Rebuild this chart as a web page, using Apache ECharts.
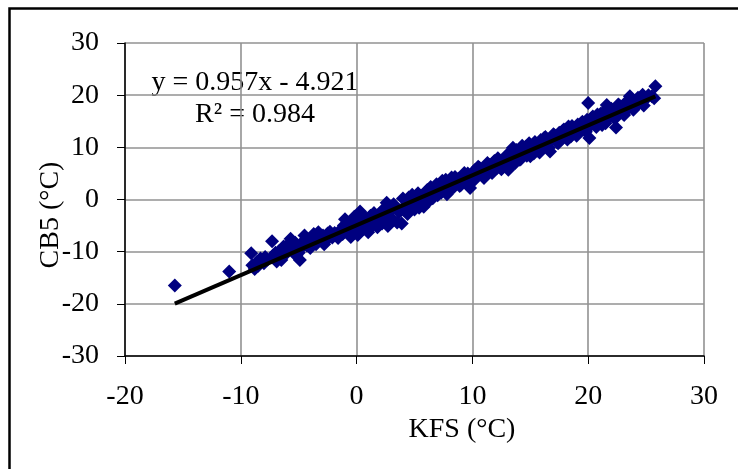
<!DOCTYPE html>
<html>
<head>
<meta charset="utf-8">
<script src="https://cdn.jsdelivr.net/npm/echarts@6/dist/echarts.min.js"></script>
<style>
  html, body { margin: 0; padding: 0; background: #fff; }
  #chart { width: 738px; height: 469px; }
</style>
</head>
<body>
<div id="chart"></div>
<script>
// Paired daily temperatures: KFS station (x) vs CB5 station (y), °C
var kfs = [
  -15.7, -11.0,
  -9.1, -9.0, -8.8, -8.6, -8.3, -8.0, -7.7, -7.3, -7.2, -7.0, -6.7, -6.5, -6.3, -6.1,
  -5.9, -5.7, -5.5, -5.3, -5.0, -4.9, -4.7, -4.5, -4.3, -4.1, -3.9, -3.7, -3.5, -3.3,
  -3.1, -2.9, -2.7, -2.5, -2.3, -2.1, -1.9, -1.7, -1.5, -1.2, -1.0, -0.9, -0.7, -0.5,
  -0.3, -0.1, 0.1, 0.3, 0.5, 0.6, 0.8, 1.0, 1.2, 1.4, 1.6, 1.8, 2.0, 2.2, 2.4, 2.6,
  2.7, 2.9, 3.1, 3.3, 3.5, 3.7, 3.9, 4.0, 4.2, 4.4, 4.6, 4.8, 5.0, 5.2, 5.4, 5.6,
  5.8, 6.0, 6.2, 6.4, 6.6, 6.8, 7.0, 7.2, 7.4, 7.6, 7.8, 8.0, 8.2, 8.4, 8.6, 8.8,
  9.0, 9.2, 9.4, 9.6, 9.8, 10.0, 10.2, 10.4, 10.6, 10.8, 11.0, 11.2, 11.5, 11.7, 11.9,
  12.1, 12.3, 12.5, 12.7, 12.9, 13.1, 13.3, 13.5, 13.7, 13.9, 14.1, 14.3, 14.5, 14.7,
  14.9, 15.1, 15.3, 15.5, 15.7, 15.9, 16.1, 16.3, 16.5, 16.7, 16.9, 17.1, 17.3, 17.5,
  17.7, 17.9, 18.1, 18.3, 18.5, 18.7, 18.9, 19.1, 19.3, 19.5, 19.7, 19.9, 20.0, 20.1,
  20.2, 20.4, 20.6, 20.8, 21.0, 21.2, 21.4, 21.6, 21.8, 22.0, 22.2, 22.4, 22.6, 22.8,
  23.0, 23.2, 23.4, 23.6, 23.8, 24.0, 24.2, 24.5, 24.7, 25.0, 25.5, 25.8, 25.7,
  -8.5, -7.9, -6.9, -6.0, -5.2, -4.6, -4.0, -3.4, -2.8, -2.2, -1.6, -1.1, -0.6, -0.2,
  0.2, 0.7, 1.1, 1.5, 1.9, 2.3, 2.8, 3.2, 3.6, 4.1, 4.5, 4.9, 5.3, 5.7, 6.1, 6.5,
  6.9, 7.3, 7.7, 8.1, 8.5, 8.9, 9.3, 9.7, 10.1, 10.5, 10.9, 11.3, 11.8, 12.2, 12.6,
  13.0, 13.4, 13.8, 14.2, 14.6, 15.0, 15.4, 15.8, 16.2, 16.6, 17.0, 17.4, 17.8, 18.2,
  18.6, 19.0, 19.4, 19.8, 20.3, 20.7, 21.1, 21.5, 21.9, 22.3, 22.7, 23.1, 23.5, 23.9,
  24.3, 24.8, 25.2
];
var cb5 = [
  -16.5, -13.8,
  -10.3, -12.6, -13.3, -12.0, -11.3, -12.2, -11.5, -8.0, -10.8, -10.2, -9.9, -11.6, -9.0, -10.4,
  -8.6, -7.5, -9.4, -8.3, -10.2, -11.6, -9.1, -6.9, -8.8, -7.6, -8.2, -6.6, -8.6, -6.3,
  -7.8, -6.9, -8.0, -6.5, -6.2, -7.3, -6.4, -7.0, -6.1, -6.6, -3.8, -5.4, -4.5, -7.2,
  -5.9, -4.2, -6.8, -2.3, -3.0, -5.6, -4.0, -6.3, -3.1, -4.9, -3.7, -5.3, -2.7, -4.6, -3.3, -0.6,
  -5.1, -2.1, -3.8, -1.5, -4.4, -2.4, -4.6, 0.2, -1.2, -2.8, -0.5, 0.9, -1.9, -0.3, -1.6, 0.6,
  -1.4, 0.9, -0.4, 2.4, 0.3, 1.6, 0.8, 2.6, 3.6, 1.9, 1.0, 3.4, 4.2, 2.4, 3.1, 4.0,
  2.8, 4.5, 3.4, 5.0, 2.2, 4.2, 5.6, 4.6, 6.1, 5.2, 4.1, 5.8, 6.6, 5.1, 7.4,
  6.0, 6.9, 5.8, 7.5, 6.4, 5.7, 8.3, 9.9, 7.0, 8.8, 7.6, 10.3, 9.0, 8.4,
  10.8, 9.6, 8.8, 10.5, 9.3, 11.4, 10.1, 12.0, 10.8, 9.2, 11.7, 12.3, 11.0, 12.8,
  11.6, 13.4, 12.5, 14.0, 12.1, 13.6, 12.8, 14.4, 13.2, 14.9, 13.7, 15.3, 18.5, 11.8,
  14.2, 15.9, 14.7, 16.3, 15.1, 14.3, 16.8, 18.1, 15.8, 17.4, 16.4, 13.8, 18.2, 17.0,
  16.5, 18.5, 17.4, 19.8, 18.3, 17.6, 19.1, 18.7, 20.1, 19.3, 19.8, 21.7, 19.4,
  -12.7, -11.0, -11.9, -9.5, -10.8, -8.0, -9.3, -7.2, -8.6, -6.9, -7.4, -5.0, -6.3, -3.3,
  -5.3, -3.4, -4.8, -2.6, -3.9, -1.9, -3.2, -0.9, -2.2, -2.0, 0.4, -1.1, 1.2, -0.7, 1.8, 0.2,
  2.9, 1.3, 3.8, 1.8, 4.3, 2.6, 5.1, 3.2, 3.6, 6.3, 4.6, 7.0, 5.4, 7.9, 6.2,
  8.6, 6.6, 9.5, 7.8, 10.1, 8.3, 11.0, 9.0, 11.8, 9.9, 12.5, 10.8, 13.2, 11.5,
  14.1, 12.2, 14.6, 13.0, 15.6, 13.9, 16.5, 14.6, 17.2, 15.5, 18.0, 16.2, 18.7, 17.2,
  19.5, 18.0, 20.0
];

// Least-squares fit shown on the chart
var fitSlope = 0.957;
var fitIntercept = -4.921;
var fitR2 = 0.984;

var xTicks = [-20, -10, 0, 10, 20, 30];
var yTicks = [-30, -20, -10, 0, 10, 20, 30];

var points = kfs.map(function (x, i) { return [x, cb5[i]]; });
var xLo = Math.min.apply(null, kfs);
var xHi = Math.max.apply(null, kfs);
var fitLine = [
  [xLo, fitSlope * xLo + fitIntercept],
  [xHi, fitSlope * xHi + fitIntercept]
];

var serif = '"Liberation Serif", "Times New Roman", serif';
var gridColor = '#929292';

function axisCommon(ticks) {
  return {
    type: 'value',
    min: ticks[0],
    max: ticks[ticks.length - 1],
    interval: ticks[1] - ticks[0],
    axisLine: { show: true, onZero: false, lineStyle: { color: '#000', width: 1.5 } },
    axisTick: { show: true, inside: false, length: 8, lineStyle: { color: '#000', width: 1 } },
    splitLine: { show: true, lineStyle: { color: gridColor, width: 1.6 } },
    axisLabel: { color: '#000', fontFamily: serif, fontSize: 28 }
  };
}

var xAxis = axisCommon(xTicks);
xAxis.axisLabel.margin = 27;
var yAxis = axisCommon(yTicks);
yAxis.axisLabel.margin = 26;

var chart = echarts.init(document.getElementById('chart'), null, { renderer: 'canvas' });
chart.setOption({
  animation: false,
  backgroundColor: '#fff',
  grid: { left: 125, right: 34, top: 43, bottom: 113, containLabel: false },
  xAxis: xAxis,
  yAxis: yAxis,
  series: [
    {
      type: 'scatter',
      data: points,
      symbol: 'diamond',
      symbolSize: 14,
      itemStyle: { color: '#000080', opacity: 1 },
      z: 2
    },
    {
      type: 'line',
      data: fitLine,
      symbol: 'none',
      lineStyle: { color: '#000', width: 4 },
      z: 3
    }
  ],
  graphic: [
    {
      type: 'rect',
      shape: { x: 9.5, y: 8.5, width: 740, height: 470 },
      style: { fill: 'none', stroke: '#000', lineWidth: 2.5 },
      silent: true
    },
    {
      type: 'text', x: 255, y: 83,
      style: { text: 'y = ' + fitSlope.toFixed(3) + 'x - ' + Math.abs(fitIntercept).toFixed(3),
               font: '28px ' + serif, fill: '#000', align: 'center', verticalAlign: 'middle' }
    },
    {
      type: 'text', x: 255, y: 115,
      style: { text: 'R\u00b2 = ' + fitR2.toFixed(3),
               font: '28px ' + serif, fill: '#000', align: 'center', verticalAlign: 'middle' }
    },
    {
      type: 'text', x: 462, y: 430,
      style: { text: 'KFS (\u00b0C)', font: '28px ' + serif, fill: '#000',
               align: 'center', verticalAlign: 'middle' }
    },
    {
      type: 'text', x: 51, y: 215, rotation: Math.PI / 2,
      style: { text: 'CB5 (\u00b0C)', font: '28px ' + serif, fill: '#000',
               align: 'center', verticalAlign: 'middle' }
    }
  ]
});
</script>
</body>
</html>
